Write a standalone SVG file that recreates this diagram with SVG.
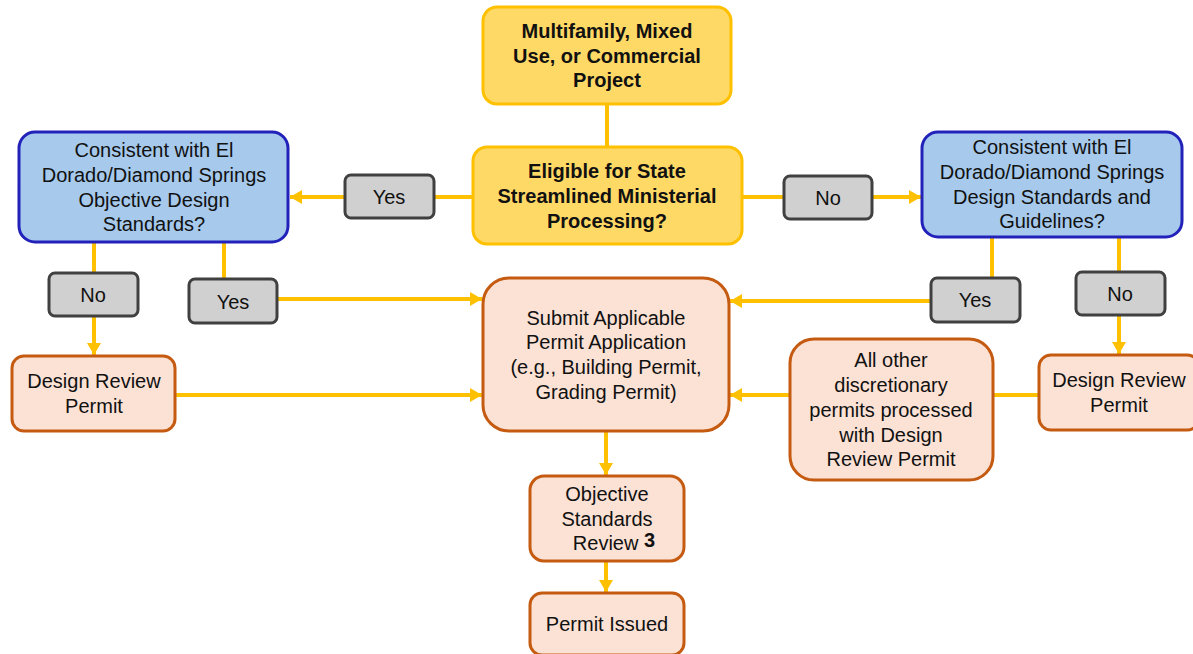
<svg xmlns="http://www.w3.org/2000/svg" width="1193" height="654" viewBox="0 0 1193 654">
<style>
.t{font-family:"Liberation Sans",Arial,sans-serif;font-size:20px;fill:#111;text-anchor:middle}
.b{font-weight:bold}
.gold{fill:#FFD966;stroke:#FFC000;stroke-width:3}
.blue{fill:#A6C9EC;stroke:#2222BB;stroke-width:3}
.gray{fill:#D0D0D0;stroke:#404040;stroke-width:3}
.org{fill:#FBE2D5;stroke:#C55A11;stroke-width:3}
.c{fill:none;stroke:#FFC000;stroke-width:4}
.a{marker-end:url(#ah)}
</style>
<defs>
<marker id="ah" markerUnits="userSpaceOnUse" markerWidth="14" markerHeight="14" refX="12" refY="7" orient="auto">
<path d="M0,0 L12,7 L0,14 Z" fill="#FFC000"/>
</marker>
</defs>
<g id="connectors">
<line class="c" x1="607" y1="104" x2="607" y2="147"/>
<line class="c" x1="473" y1="197" x2="434" y2="197"/>
<line class="c a" x1="345" y1="197" x2="290" y2="197"/>
<line class="c" x1="742" y1="197" x2="784" y2="197"/>
<line class="c a" x1="872" y1="197" x2="921" y2="197"/>
<line class="c" x1="94" y1="242" x2="94" y2="273"/>
<line class="c a" x1="94" y1="316" x2="94" y2="355"/>
<line class="c" x1="224" y1="242" x2="224" y2="279"/>
<line class="c a" x1="277" y1="299" x2="482" y2="299"/>
<line class="c a" x1="175" y1="395" x2="482" y2="395"/>
<line class="c" x1="992" y1="237" x2="992" y2="278"/>
<line class="c a" x1="931" y1="301" x2="730" y2="301"/>
<line class="c" x1="1119" y1="237" x2="1119" y2="272"/>
<line class="c a" x1="1119" y1="315" x2="1119" y2="354"/>
<line class="c" x1="1039" y1="395" x2="993" y2="395"/>
<line class="c a" x1="790" y1="395" x2="730" y2="395"/>
<line class="c a" x1="606" y1="431" x2="606" y2="475"/>
<line class="c a" x1="606" y1="561" x2="606" y2="592"/>
</g>
<g id="project">
<rect class="gold" x="483" y="7" width="248" height="97" rx="14"/>
<text class="t b" x="607" y="38">Multifamily, Mixed</text>
<text class="t b" x="607" y="63">Use, or Commercial</text>
<text class="t b" x="607" y="87">Project</text>
</g>
<g id="eligible">
<rect class="gold" x="473" y="147" width="269" height="97" rx="14"/>
<text class="t b" x="607" y="178">Eligible for State</text>
<text class="t b" x="607" y="203">Streamlined Ministerial</text>
<text class="t b" x="607" y="228">Processing?</text>
</g>
<g id="objective-q">
<rect class="blue" x="19" y="132" width="269" height="110" rx="16"/>
<text class="t" x="154" y="157">Consistent with El</text>
<text class="t" x="154" y="182">Dorado/Diamond Springs</text>
<text class="t" x="154" y="207">Objective Design</text>
<text class="t" x="154" y="231">Standards?</text>
</g>
<g id="guidelines-q">
<rect class="blue" x="922" y="132" width="260" height="105" rx="16"/>
<text class="t" x="1052" y="154">Consistent with El</text>
<text class="t" x="1052" y="179">Dorado/Diamond Springs</text>
<text class="t" x="1052" y="204">Design Standards and</text>
<text class="t" x="1052" y="228">Guidelines?</text>
</g>
<g id="yes-top">
<rect class="gray" x="345" y="175" width="89" height="43" rx="6"/>
<text class="t" x="389" y="204">Yes</text>
</g>
<g id="no-top">
<rect class="gray" x="784" y="176" width="88" height="43" rx="6"/>
<text class="t" x="828" y="205">No</text>
</g>
<g id="no-left">
<rect class="gray" x="49" y="273" width="89" height="43" rx="6"/>
<text class="t" x="93" y="302">No</text>
</g>
<g id="yes-left">
<rect class="gray" x="189" y="279" width="88" height="44" rx="6"/>
<text class="t" x="233" y="309">Yes</text>
</g>
<g id="yes-right">
<rect class="gray" x="931" y="278" width="89" height="44" rx="6"/>
<text class="t" x="975" y="307">Yes</text>
</g>
<g id="no-right">
<rect class="gray" x="1076" y="272" width="89" height="43" rx="6"/>
<text class="t" x="1120" y="301">No</text>
</g>
<g id="drp-left">
<rect class="org" x="12" y="356" width="163" height="75" rx="12"/>
<text class="t" x="94" y="388">Design Review</text>
<text class="t" x="94" y="413">Permit</text>
</g>
<g id="submit">
<rect class="org" x="483" y="278" width="246" height="153" rx="26"/>
<text class="t" x="606" y="325">Submit Applicable</text>
<text class="t" x="606" y="349">Permit Application</text>
<text class="t" x="606" y="374">(e.g., Building Permit,</text>
<text class="t" x="606" y="399">Grading Permit)</text>
</g>
<g id="drp-right">
<rect class="org" x="1039" y="355" width="160" height="75" rx="12"/>
<text class="t" x="1119" y="387">Design Review</text>
<text class="t" x="1119" y="412">Permit</text>
</g>
<g id="all-other">
<rect class="org" x="790" y="339" width="203" height="141" rx="24"/>
<text class="t" x="891" y="367">All other</text>
<text class="t" x="891" y="392">discretionary</text>
<text class="t" x="891" y="417">permits processed</text>
<text class="t" x="891" y="442">with Design</text>
<text class="t" x="891" y="466">Review Permit</text>
</g>
<g id="objective-review">
<rect class="org" x="530" y="476" width="154" height="85" rx="14"/>
<text class="t" x="607" y="501">Objective</text>
<text class="t" x="607" y="526">Standards</text>
<text class="t" x="614" y="550">Review <tspan class="b" dy="-3">3</tspan></text>
</g>
<g id="permit-issued">
<rect class="org" x="530" y="593" width="154" height="62" rx="12"/>
<text class="t" x="607" y="631">Permit Issued</text>
</g>
</svg>
